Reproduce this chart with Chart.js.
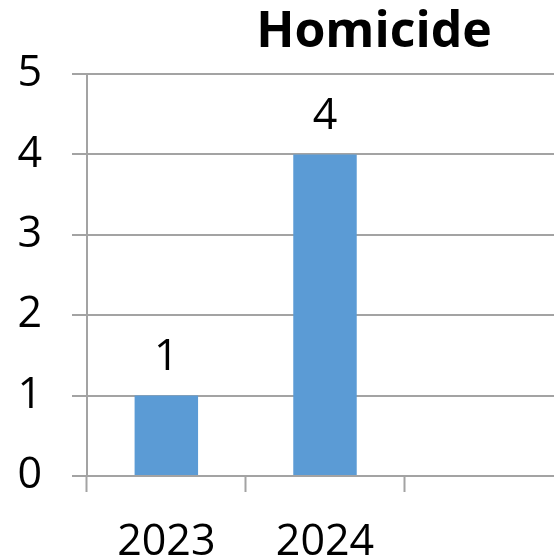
<!DOCTYPE html>
<html>
<head>
<meta charset="utf-8">
<script src="https://cdn.jsdelivr.net/npm/chart.js@4"></script>
<style>
  html, body { margin: 0; padding: 0; background: #fff; overflow: hidden; }
  #wrap { width: 554px; height: 560px; overflow: hidden; }
  canvas { display: block; }
</style>
</head>
<body>
<div id="wrap"><canvas id="chart" width="748" height="560"></canvas></div>
<script>
// chart data
const chartTitle = 'Homicide';
const categories = ['2023', '2024', ''];
const homicides = [1, 4, null];
const yTicks = [0, 1, 2, 3, 4, 5];

const FONT = '"Open Sans", sans-serif';
const AXIS_GRAY = '#a3a3a3';

// value labels above each bar
const barValueLabels = {
  id: 'barValueLabels',
  afterDatasetsDraw(chart) {
    const ctx = chart.ctx;
    const meta = chart.getDatasetMeta(0);
    ctx.save();
    ctx.font = '43px ' + FONT;
    ctx.fillStyle = '#000';
    ctx.textAlign = 'center';
    ctx.textBaseline = 'bottom';
    meta.data.forEach((bar, i) => {
      const v = homicides[i];
      if (v === null || v === undefined) return;
      ctx.fillText(String(v), bar.x, bar.y - 16);
    });
    ctx.restore();
  }
};

// title centred on the whole chart object (wider than the visible crop)
const wideTitle = {
  id: 'wideTitle',
  afterDraw(chart) {
    const ctx = chart.ctx;
    ctx.save();
    ctx.font = 'bold 50px ' + FONT;
    ctx.fillStyle = '#000';
    ctx.textAlign = 'center';
    ctx.textBaseline = 'alphabetic';
    ctx.fillText(chartTitle, chart.width / 2, 47);
    ctx.restore();
  }
};

new Chart(document.getElementById('chart'), {
  type: 'bar',
  data: {
    labels: categories,
    datasets: [{
      label: chartTitle,
      data: homicides,
      backgroundColor: '#5b9bd5',
      categoryPercentage: 0.4,
      barPercentage: 1.0
    }]
  },
  options: {
    responsive: false,
    animation: false,
    layout: { padding: { left: 17, right: 185, top: 74, bottom: 0 } },
    plugins: {
      legend: { display: false },
      tooltip: { enabled: false },
      title: { display: false }
    },
    scales: {
      x: {
        afterFit: axis => { axis.height = 84; },
        grid: {
          drawOnChartArea: false,
          drawTicks: true,
          tickLength: 16,
          tickWidth: 2,
          color: AXIS_GRAY,
          offset: true
        },
        border: { color: AXIS_GRAY, width: 2 },
        ticks: {
          color: '#000',
          padding: 25,
          maxRotation: 0,
          font: { family: FONT, size: 43 }
        }
      },
      y: {
        min: 0,
        max: 5,
        afterFit: axis => { axis.width = 70; },
        afterBuildTicks: axis => { axis.ticks = yTicks.map(v => ({ value: v })); },
        grid: {
          color: AXIS_GRAY,
          lineWidth: 2,
          tickLength: 15,
          tickWidth: 2
        },
        border: { color: AXIS_GRAY, width: 2 },
        ticks: {
          color: '#000',
          padding: 30,
          font: { family: FONT, size: 43 }
        }
      }
    }
  },
  plugins: [barValueLabels, wideTitle]
});
</script>
</body>
</html>
